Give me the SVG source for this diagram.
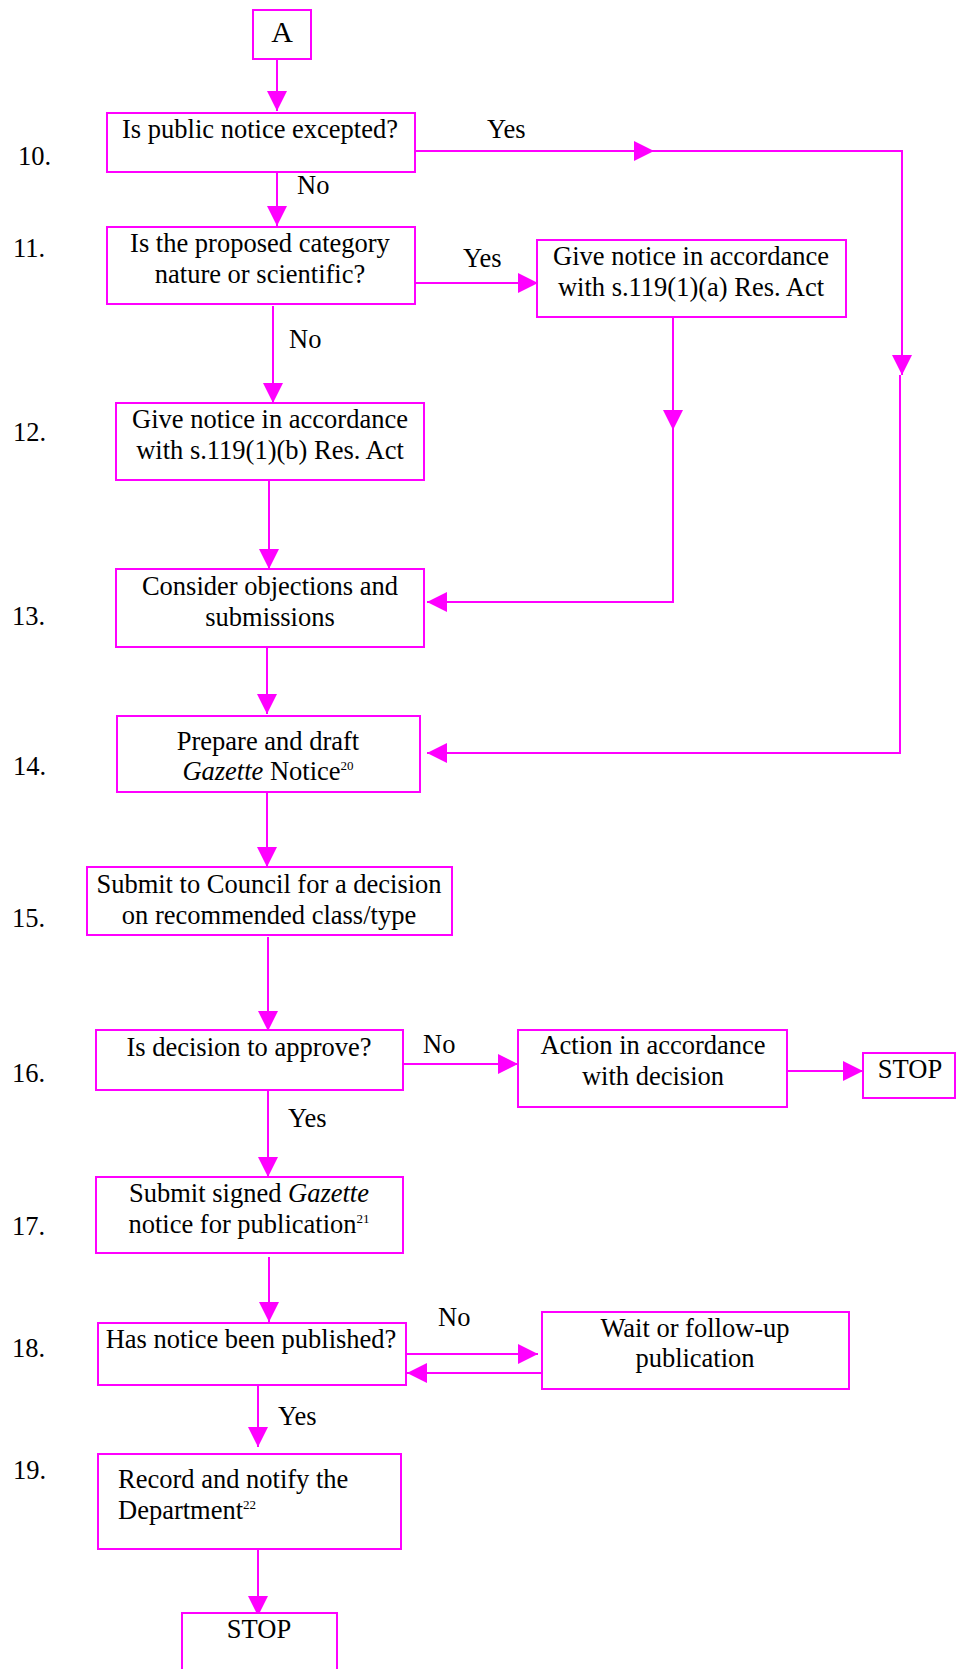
<svg xmlns="http://www.w3.org/2000/svg" width="957" height="1669" viewBox="0 0 957 1669">
<style>
.box{fill:#fff;stroke:#ff00ff;stroke-width:2}
.c{fill:none;stroke:#ff00ff;stroke-width:2}
.ca{fill:none;stroke:#ff00ff;stroke-width:2;marker-end:url(#ah)}
text{font-family:"Liberation Serif","Times New Roman",serif;font-size:26.5px;fill:#000}
.m{text-anchor:middle}
.sup{font-size:13px}
</style>
<defs>
<marker id="ah" markerUnits="userSpaceOnUse" markerWidth="20" markerHeight="20" viewBox="0 0 20 20" refX="20" refY="10" orient="auto">
<path d="M0,0 L20,10 L0,20 z" fill="#ff00ff"/>
</marker>
</defs>
<rect width="957" height="1669" fill="#fff"/>

<g id="connectors">
<path class="ca" d="M277,59 L277,111"/>
<path class="ca" d="M277,172 L277,226"/>
<path class="ca" d="M409,151 L654,151"/>
<path class="ca" d="M654,151 L902,151 L902,375"/>
<path class="ca" d="M900,375 L900,753 L427,753"/>
<path class="ca" d="M409,283 L538,283"/>
<path class="ca" d="M273,306 L273,403"/>
<path class="ca" d="M673,317 L673,430"/>
<path class="ca" d="M673,430 L673,602 L427,602"/>
<path class="ca" d="M269,480 L269,569"/>
<path class="ca" d="M267,640 L267,714"/>
<path class="ca" d="M267,792 L267,867"/>
<path class="ca" d="M268,937 L268,1031"/>
<path class="ca" d="M403,1064 L518,1064"/>
<path class="ca" d="M787,1071 L863,1071"/>
<path class="ca" d="M268,1085 L268,1177"/>
<path class="ca" d="M269,1257 L269,1322"/>
<path class="ca" d="M405,1354 L538,1354"/>
<path class="ca" d="M542,1373 L407,1373"/>
<path class="ca" d="M258,1382 L258,1447"/>
<path class="ca" d="M258,1549 L258,1616"/>
<text x="487" y="138">Yes</text>
<text x="297" y="194">No</text>
<text x="463" y="267">Yes</text>
<text x="289" y="348">No</text>
<text x="423" y="1053">No</text>
<text x="288" y="1127">Yes</text>
<text x="438" y="1326">No</text>
<text x="278" y="1425">Yes</text>
</g>

<g id="step-numbers">
<text x="18" y="165">10.</text>
<text x="13" y="257">11.</text>
<text x="13" y="441">12.</text>
<text x="12" y="625">13.</text>
<text x="13" y="775">14.</text>
<text x="12" y="927">15.</text>
<text x="12" y="1082">16.</text>
<text x="12" y="1235">17.</text>
<text x="12" y="1357">18.</text>
<text x="13" y="1479">19.</text>
</g>

<g id="nA">
<rect class="box" x="253" y="10" width="58" height="49"/>
<text class="m" x="282" y="42" style="font-size:30px">A</text>
</g>

<g id="n10">
<rect class="box" x="107" y="113" width="308" height="59"/>
<text class="m" x="260" y="138">Is public notice excepted?</text>
</g>

<g id="n11">
<rect class="box" x="107" y="227" width="308" height="77"/>
<text class="m" x="260" y="252">Is the proposed category</text>
<text class="m" x="260" y="283">nature or scientific?</text>
</g>

<g id="n11a">
<rect class="box" x="537" y="240" width="309" height="77"/>
<text class="m" x="691" y="265">Give notice in accordance</text>
<text class="m" x="691" y="296">with s.119(1)(a) Res. Act</text>
</g>

<g id="n12">
<rect class="box" x="116" y="403" width="308" height="77"/>
<text class="m" x="270" y="428">Give notice in accordance</text>
<text class="m" x="270" y="459">with s.119(1)(b) Res. Act</text>
</g>

<g id="n13">
<rect class="box" x="116" y="569" width="308" height="78"/>
<text class="m" x="270" y="595">Consider objections and</text>
<text class="m" x="270" y="626">submissions</text>
</g>

<g id="n14">
<rect class="box" x="117" y="716" width="303" height="76"/>
<text class="m" x="268" y="750">Prepare and draft</text>
<text class="m" x="268" y="780"><tspan font-style="italic">Gazette</tspan> Notice<tspan class="sup" dy="-10">20</tspan></text>
</g>

<g id="n15">
<rect class="box" x="87" y="867" width="365" height="68"/>
<text class="m" x="269" y="893">Submit to Council for a decision</text>
<text class="m" x="269" y="924">on recommended class/type</text>
</g>

<g id="n16">
<rect class="box" x="96" y="1030" width="307" height="60"/>
<text class="m" x="249" y="1056">Is decision to approve?</text>
</g>

<g id="n16no">
<rect class="box" x="518" y="1030" width="269" height="77"/>
<text class="m" x="653" y="1054">Action in accordance</text>
<text class="m" x="653" y="1085">with decision</text>
</g>

<g id="stop1">
<rect class="box" x="863" y="1053" width="92" height="45"/>
<text class="m" x="910" y="1078">STOP</text>
</g>

<g id="n17">
<rect class="box" x="96" y="1177" width="307" height="76"/>
<text class="m" x="249" y="1202">Submit signed <tspan font-style="italic">Gazette</tspan></text>
<text class="m" x="249" y="1233">notice for publication<tspan class="sup" dy="-10">21</tspan></text>
</g>

<g id="n18">
<rect class="box" x="98" y="1323" width="308" height="62"/>
<text class="m" x="251" y="1348">Has notice been published?</text>
</g>

<g id="n18no">
<rect class="box" x="542" y="1312" width="307" height="77"/>
<text class="m" x="695" y="1337">Wait or follow-up</text>
<text class="m" x="695" y="1367">publication</text>
</g>

<g id="n19">
<rect class="box" x="98" y="1454" width="303" height="95"/>
<text x="118" y="1488">Record and notify the</text>
<text x="118" y="1519">Department<tspan class="sup" dy="-10">22</tspan></text>
</g>

<g id="stop2">
<rect class="box" x="182" y="1613" width="155" height="100"/>
<text class="m" x="259" y="1638">STOP</text>
</g>
</svg>
